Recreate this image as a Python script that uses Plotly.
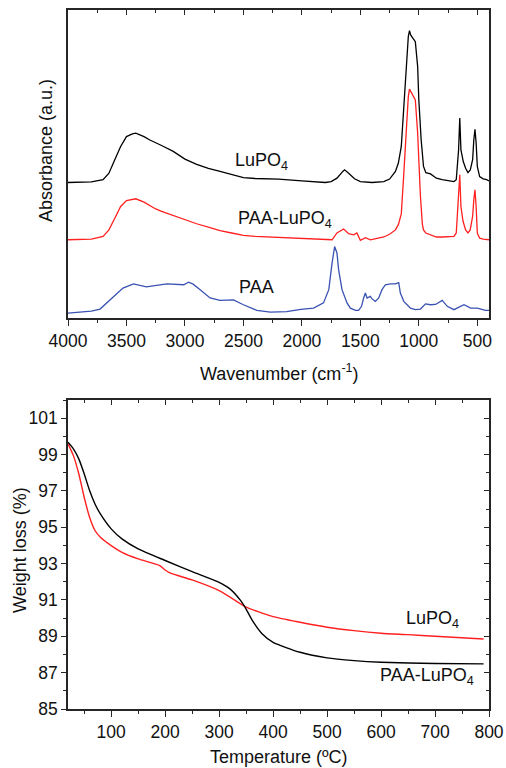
import plotly.graph_objects as go

# ---------------- FTIR spectra (stacked, arbitrary units) ----------------
wn_lupo4 = [4000, 3800, 3700, 3650, 3600, 3550, 3500, 3450, 3420, 3350, 3300, 3250, 3200,
            3100, 3000, 2900, 2800, 2700, 2600, 2500, 2400, 2200, 2000, 1900, 1800, 1750,
            1700, 1650, 1635, 1600, 1550, 1500, 1400, 1300, 1250, 1200, 1175, 1150, 1125,
            1100, 1090, 1080, 1075, 1070, 1050, 1030, 1010, 1000, 980, 960, 940, 900, 850,
            800, 700, 680, 660, 650, 640, 620, 600, 580, 560, 540, 530, 520, 510, 500, 480,
            450, 420, 400]
abs_lupo4 = [44.0, 44.2, 44.9, 47.0, 51.4, 55.7, 58.9, 59.8, 60.0, 58.9, 57.8, 56.8, 56.0,
             54.1, 51.6, 49.9, 48.6, 47.6, 46.5, 45.6, 45.3, 45.1, 44.5, 44.2, 44.0, 44.3,
             45.4, 47.6, 48.1, 47.0, 45.2, 44.3, 44.0, 44.3, 45.1, 47.6, 50.3, 55.7, 70.8,
             87.0, 91.4, 93.3, 92.4, 91.9, 90.8, 89.7, 81.6, 70.8, 57.8, 49.2, 47.2, 46.8, 45.4,
             44.9, 44.3, 44.9, 54.6, 64.9, 54.6, 50.8, 48.6, 47.2, 48.1, 51.4, 57.8, 61.3, 56.8,
             49.2, 45.9, 45.2, 44.9, 44.5]

wn_paa_lupo4 = [4000, 3800, 3700, 3650, 3600, 3550, 3500, 3420, 3350, 3300, 3250, 3200, 3100,
                3000, 2900, 2800, 2700, 2600, 2500, 2400, 2200, 2000, 1800, 1742, 1700, 1643,
                1600, 1557, 1530, 1500, 1457, 1414, 1328, 1300, 1250, 1200, 1175, 1150, 1130,
                1100, 1090, 1080, 1070, 1050, 1030, 1010, 1000, 987, 970, 960, 940, 900, 850,
                800, 700, 680, 660, 650, 640, 622, 600, 580, 561, 540, 530, 520, 510, 500, 480,
                450, 400]
abs_paa_lupo4 = [25.4, 25.6, 26.5, 28.6, 32.4, 36.2, 38.1, 38.7, 37.6, 36.4, 35.4, 34.6, 33.2,
                 31.9, 30.6, 29.5, 28.4, 27.6, 26.8, 26.5, 26.2, 25.7, 25.4, 25.4, 27.6, 28.9,
                 27.4, 27.0, 27.6, 25.2, 26.1, 25.4, 26.1, 26.3, 27.2, 28.6, 30.3, 33.8, 45.9,
                 67.6, 71.9, 74.3, 73.5, 72.4, 70.8, 60.0, 49.2, 40.0, 30.5, 28.6, 27.6, 27.0,
                 26.3, 26.3, 26.5, 27.6, 38.4, 46.5, 36.2, 31.4, 28.6, 27.6, 28.6, 33.0, 38.4,
                 41.6, 36.2, 27.6, 25.9, 25.6, 25.4]

wn_paa = [4000, 3800, 3726, 3670, 3610, 3530, 3440, 3330, 3155, 3010, 2970, 2930, 2870, 2785,
          2700, 2585, 2500, 2385, 2270, 2130, 2010, 1900, 1815, 1770, 1742, 1720, 1700, 1686,
          1657, 1614, 1586, 1540, 1515, 1490, 1472, 1457, 1443, 1415, 1400, 1372, 1343, 1315,
          1286, 1243, 1200, 1172, 1158, 1144, 1129, 1100, 1072, 1029, 986, 943, 900, 857, 800,
          757, 700, 614, 557, 500, 430, 400]
abs_paa = [1.6, 2.2, 2.9, 4.9, 7.0, 9.7, 11.1, 10.1, 11.1, 10.8, 11.6, 11.0, 9.2, 6.5,
           5.7, 5.9, 4.3, 2.5, 1.9, 2.1, 2.8, 3.2, 4.9, 9.2, 17.8, 23.2, 21.1, 15.7,
           9.2, 4.9, 3.2, 2.5, 2.5, 3.8, 6.5, 8.1, 6.5, 7.0, 6.2, 5.4, 6.5, 9.2,
           10.8, 11.1, 11.1, 11.5, 8.1, 7.0, 5.4, 4.3, 3.2, 2.7, 2.9, 4.6, 4.3, 4.4, 5.7,
           3.8, 2.7, 4.3, 3.2, 3.2, 2.5, 2.5]

# ---------------- TGA curves ----------------
temp_black = [20, 30, 40, 50, 60, 70, 80, 100, 120, 150, 200, 250, 300, 320, 340, 350, 360,
              380, 400, 450, 500, 550, 600, 700, 790]
wt_black = [99.68, 99.31, 98.76, 97.94, 97.02, 96.28, 95.73, 94.91, 94.36, 93.81, 93.17,
            92.56, 91.97, 91.61, 90.96, 90.50, 89.95, 89.13, 88.67, 88.12, 87.81, 87.66,
            87.57, 87.50, 87.48]

temp_red = [20, 30, 40, 50, 60, 70, 80, 100, 120, 150, 190, 200, 210, 250, 300, 340, 350,
            400, 450, 500, 550, 600, 650, 700, 790]
wt_red = [99.59, 98.94, 97.94, 96.65, 95.55, 94.82, 94.45, 93.99, 93.62, 93.26, 92.89, 92.65,
          92.47, 92.10, 91.51, 90.78, 90.60, 90.08, 89.77, 89.50, 89.31, 89.17, 89.09, 89.00,
          88.85]

FONT = "Liberation Sans, Arial, sans-serif"
INK = "#111111"
FRAME = "#262626"
BLACK = "#000000"
RED = "#ff2020"
BLUE = "#3a52b2"

fig = go.Figure()

fig.add_trace(go.Scatter(x=wn_lupo4, y=abs_lupo4, mode="lines",
                         line=dict(color=BLACK, width=1.3), xaxis="x", yaxis="y"))
fig.add_trace(go.Scatter(x=wn_paa_lupo4, y=abs_paa_lupo4, mode="lines",
                         line=dict(color=RED, width=1.3), xaxis="x", yaxis="y"))
fig.add_trace(go.Scatter(x=wn_paa, y=abs_paa, mode="lines",
                         line=dict(color=BLUE, width=1.3), xaxis="x", yaxis="y"))

fig.add_trace(go.Scatter(x=temp_red, y=wt_red, mode="lines",
                         line=dict(color=RED, width=1.4, shape="spline", smoothing=0.6),
                         xaxis="x2", yaxis="y2"))
fig.add_trace(go.Scatter(x=temp_black, y=wt_black, mode="lines",
                         line=dict(color=BLACK, width=1.4, shape="spline", smoothing=0.6),
                         xaxis="x2", yaxis="y2"))

W, H = 506, 768
xdom = [68 / W, 489 / W]
ydom_top = [1 - 318 / H, 1 - 10 / H]
ydom_bot = [1 - 709 / H, 1 - 400 / H]

tickfont = dict(family=FONT, size=17.5, color=INK)
common = dict(showline=True, linecolor=FRAME, linewidth=1.5, showgrid=False, zeroline=False,
              tickcolor=FRAME, tickwidth=1.3, tickfont=tickfont, automargin=False)
overlay = dict(showticklabels=False, showline=False, showgrid=False, zeroline=False,
               tickcolor=FRAME, tickwidth=1.3, automargin=False)

fig.update_layout(
    template="none",
    width=W, height=H,
    margin=dict(l=0, r=0, t=0, b=0, pad=0, autoexpand=False),
    paper_bgcolor="white", plot_bgcolor="white",
    showlegend=False,
    font=dict(family=FONT, color=INK),
    # spectra panel
    xaxis=dict(domain=xdom, anchor="y", range=[4000, 400], tickmode="linear", tick0=0,
               dtick=500, ticks="outside", ticklen=6, mirror=True,
               minor=dict(dtick=250, tick0=0, ticks="outside", ticklen=3,
                          tickcolor=FRAME, tickwidth=1.3),
               **common),
    xaxis3=dict(domain=xdom, anchor="y", overlaying="x", side="top", range=[4000, 400],
                tickmode="linear", tick0=0, dtick=500, ticks="inside", ticklen=5,
                minor=dict(dtick=250, tick0=0, ticks="inside", ticklen=3,
                           tickcolor=FRAME, tickwidth=1.3),
                **overlay),
    yaxis=dict(domain=ydom_top, anchor="x", range=[0, 100], ticks="", showticklabels=False,
               mirror=True, **common),
    # TGA panel
    xaxis2=dict(domain=xdom, anchor="y2", range=[20, 800], tickmode="linear", tick0=0,
                dtick=100, ticks="outside", ticklen=6, mirror=True,
                minor=dict(dtick=50, tick0=0, ticks="outside", ticklen=3,
                           tickcolor=FRAME, tickwidth=1.3),
                **common),
    xaxis4=dict(domain=xdom, anchor="y2", overlaying="x2", side="top", range=[20, 800],
                tickmode="linear", tick0=0, dtick=100, ticks="inside", ticklen=5,
                minor=dict(dtick=50, tick0=0, ticks="inside", ticklen=3,
                           tickcolor=FRAME, tickwidth=1.3),
                **overlay),
    yaxis2=dict(domain=ydom_bot, anchor="x2", range=[85, 102], tickmode="linear", tick0=85,
                dtick=2, ticks="outside", ticklen=5, mirror=True,
                minor=dict(dtick=1, tick0=85, ticks="outside", ticklen=3,
                           tickcolor=FRAME, tickwidth=1.3),
                **common),
    yaxis4=dict(domain=ydom_bot, anchor="x2", overlaying="y2", side="right", range=[85, 102],
                tickmode="linear", tick0=85, dtick=2, ticks="inside", ticklen=5,
                minor=dict(dtick=1, tick0=85, ticks="inside", ticklen=3,
                           tickcolor=FRAME, tickwidth=1.3),
                **overlay),
)

# invisible traces so the overlay axes are drawn
fig.add_trace(go.Scatter(x=[4000], y=[0], mode="markers", marker=dict(opacity=0),
                         xaxis="x3", yaxis="y", hoverinfo="skip"))
fig.add_trace(go.Scatter(x=[20], y=[85], mode="markers", marker=dict(opacity=0),
                         xaxis="x4", yaxis="y4", hoverinfo="skip"))

lab = dict(family=FONT, size=18, color=INK)
annotations = [
    # curve labels, spectra panel
    dict(x=2343, y=50.8, xref="x", yref="y", text="LuPO<sub>4</sub>", showarrow=False,
         font=lab, xanchor="center", yanchor="middle"),
    dict(x=2562, y=31.9, xref="x", yref="y", text="PAA-LuPO<sub>4</sub>", showarrow=False,
         font=lab, xanchor="left", yanchor="middle"),
    dict(x=2553, y=10.1, xref="x", yref="y", text="PAA", showarrow=False,
         font=lab, xanchor="left", yanchor="middle"),
    # curve labels, TGA panel
    dict(x=696, y=89.95, xref="x2", yref="y2", text="LuPO<sub>4</sub>", showarrow=False,
         font=lab, xanchor="center", yanchor="middle"),
    dict(x=686, y=86.78, xref="x2", yref="y2", text="PAA-LuPO<sub>4</sub>", showarrow=False,
         font=lab, xanchor="center", yanchor="middle"),
    # axis titles
    dict(x=279 / W, y=1 - 372 / H, xref="paper", yref="paper",
         text="Wavenumber (cm<sup>-1</sup>)", showarrow=False, font=lab,
         xanchor="center", yanchor="middle"),
    dict(x=46 / W, y=1 - 151 / H, xref="paper", yref="paper", text="Absorbance (a.u.)",
         textangle=-90, showarrow=False, font=lab, xanchor="center", yanchor="middle"),
    dict(x=279 / W, y=1 - 757 / H, xref="paper", yref="paper", text="Temperature (ºC)",
         showarrow=False, font=lab, xanchor="center", yanchor="middle"),
    dict(x=20 / W, y=1 - 550 / H, xref="paper", yref="paper", text="Weight loss (%)",
         textangle=-90, showarrow=False, font=lab, xanchor="center", yanchor="middle"),
]
fig.update_layout(annotations=annotations)

fig.write_html("out.html")
